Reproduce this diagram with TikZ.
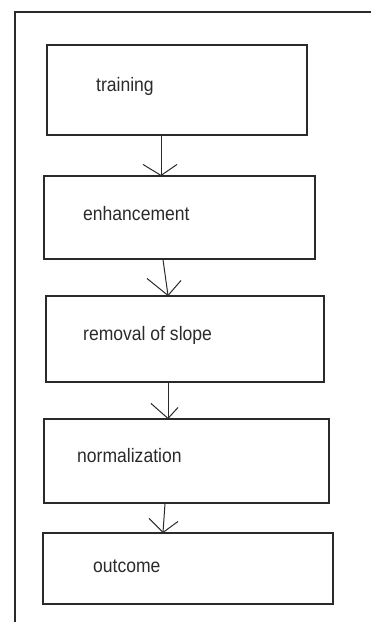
\documentclass[tikz,border=0pt]{standalone}
\usepackage{fontspec}
\setmainfont{Liberation Sans}
\usetikzlibrary{calc}
\definecolor{ink}{HTML}{2A2A2A}
% narrow, tall lettering for the stage labels
\newcommand{\stagelabel}[1]{\scalebox{0.9}[1]{#1}}
\tikzset{
  stagebox/.style={draw=ink, line width=1.1pt, inner sep=0pt},
  stagetext/.style={anchor=base west, inner sep=0pt, text=ink,
    font=\fontsize{19.5}{22}\selectfont},
  flow/.style={draw=ink, line width=1pt},
}
\begin{document}
\begin{tikzpicture}[x=1pt, y=-1pt]
  \useasboundingbox (0,0) rectangle (371,622);
  % frame lines along the top and left edge
  \coordinate (frameTL) at (15,12);
  \coordinate (frameTR) at (371,12);
  \coordinate (frameBL) at (15,622);
  \draw[draw=ink, line width=1.1pt] (frameTR) -- (frameTL) -- (frameBL);

  % stage boxes
  \node[stagebox, minimum width=260pt, minimum height=90pt] (b1) at (177,90) {};
  \node[stagebox, minimum width=271pt, minimum height=83pt] (b2) at (179.5,217.5) {};
  \node[stagebox, minimum width=278pt, minimum height=86pt] (b3) at (185,339) {};
  \node[stagebox, minimum width=285pt, minimum height=84pt] (b4) at (186.5,461) {};
  \node[stagebox, minimum width=290pt, minimum height=71pt] (b5) at (188,568.5) {};

  % stage labels
  \node[stagetext] (t1) at (96,91) {\stagelabel{training}};
  \node[stagetext] (t2) at (83,220) {\stagelabel{enhancement}};
  \node[stagetext] (t3) at (83,340) {\stagelabel{removal of slope}};
  \node[stagetext] (t4) at (77,462) {\stagelabel{normalization}};
  \node[stagetext] (t5) at (93,572) {\stagelabel{outcome}};

  % connectors with open V heads
  \coordinate (h1) at ([xshift=-18.5pt]b2.north);
  \draw[flow] ([xshift=-16pt]b1.south) -- (h1);
  \draw[flow] ($(h1)+(-18,-11)$) -- (h1) -- ($(h1)+(16,-11)$);

  \coordinate (h2) at ([xshift=-17pt]b3.north);
  \draw[flow] ([xshift=-16.5pt]b2.south) -- (h2);
  \draw[flow] ($(h2)+(-21,-17)$) -- (h2) -- ($(h2)+(13,-15)$);

  \coordinate (h3) at ([xshift=-18.5pt]b4.north);
  \draw[flow] ([xshift=-17pt]b3.south) -- (h3);
  \draw[flow] ($(h3)+(-17,-15)$) -- (h3) -- ($(h3)+(10,-11)$);

  \coordinate (h4) at ([xshift=-25pt]b5.north);
  \draw[flow] ([xshift=-21.5pt]b4.south) -- (h4);
  \draw[flow] ($(h4)+(-14,-14)$) -- (h4) -- ($(h4)+(15,-11)$);
\end{tikzpicture}
\end{document}
